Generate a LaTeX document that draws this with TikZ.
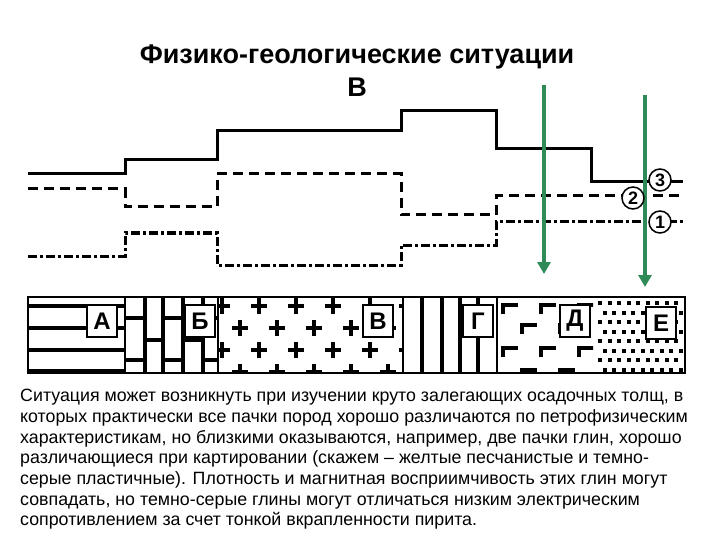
\documentclass[tikz,border=0pt]{standalone}
\usepackage{fontspec}
\setmainfont{Liberation Sans}
\usetikzlibrary{arrows.meta}
\begin{document}
\begin{tikzpicture}[x=1pt,y=-1pt,
  curve/.style={line width=3pt},
  lbl/.style={draw,fill=white,line width=1.5pt,minimum width=30pt,minimum height=32pt,inner sep=0pt,font=\fontsize{24}{24}\selectfont\bfseries},
  circ/.style={circle,draw,line width=1.5pt,fill=white,inner sep=0pt,minimum size=22pt,font=\fontsize{18}{18}\selectfont\bfseries},
  garrow/.style={draw={rgb,255:red,46;green,139;blue,87},line width=3.5pt,-{Triangle[length=12pt,width=13pt]}},
  pat/.style={line width=4.5pt}]
\useasboundingbox (0,0) rectangle (720,540);
\node[font=\fontsize{27}{33}\selectfont\bfseries,align=center] (title) at (357,71) {Физико-геологические ситуации\\В};
% curves
\draw[curve] (28,174) -- (125,174) -- (125,160) -- (217,160) -- (217,131) -- (401,131) -- (401,111) -- (496,111) -- (496,149) -- (591,149) -- (591,182) -- (683,182);
\draw[curve,dash pattern=on 10pt off 6pt] (28,189) -- (125,189) -- (125,207) -- (217,207) -- (217,174) -- (401,174) -- (401,215) -- (496,215) -- (496,196) -- (683,196);
\draw[curve,dash pattern=on 9pt off 3pt on 3pt off 3pt] (28,256) -- (125,256) -- (125,233) -- (217,233) -- (217,265) -- (401,265) -- (401,245) -- (496,245) -- (496,222) -- (683,222);
% strip
\begin{scope}
\clip (28,297) rectangle (125,373);
\foreach \y in {306,328,350,371} \draw[pat] (28,\y) -- (125,\y);
\end{scope}
\begin{scope}
\clip (125,297) rectangle (218,373);
\foreach \x in {145,163,183,203} \draw[pat] (\x,297) -- (\x,373);
\foreach \x/\y in {125/318,125/360,145/340,163/318,163/360,183/340,203/318,203/360} \draw[pat] (\x,\y) -- (\x+20,\y);
\end{scope}
\begin{scope}
\clip (218,297) rectangle (403,373);
\foreach \r/\y in {0/306,1/328,0/350,1/372} \foreach \i in {0,...,6} \draw[pat] ({222+\i*37+\r*18-8},\y) -- +(16,0) ({222+\i*37+\r*18},\y-8) -- +(0,16);
\end{scope}
\begin{scope}
\clip (403,297) rectangle (497,373);
\foreach \x in {422,442,460,478} \draw[pat] (\x,297) -- (\x,373);
\end{scope}
\begin{scope}
\clip (497,297) rectangle (593,373);
\foreach \r/\y in {0/305,1/325,0/348,1/370} \foreach \i in {0,...,3} \draw[pat] ({503+\i*38+\r*19},{\y+9}) -- +(0,-9) -- +(15,-9);
\end{scope}
\begin{scope}
\clip (593,297) rectangle (685,373);
\foreach \r in {0,...,7} \foreach \i in {0,...,9} \fill ({598+\i*9.5+mod(\r,2)*4.7},{301+\r*9.5}) rectangle +(4,4);
\end{scope}
\foreach \a/\b in {125/218,218/403,403/497,497/593} \draw[line width=1.5pt] (\a,297) -- (\a,373);
\draw[line width=2pt] (28,297) rectangle (685,373);
\node[lbl] (A) at (102,321) {А};
\node[lbl] (B) at (200,321) {Б};
\node[lbl] (V) at (378,321) {В};
\node[lbl] (G) at (478,321) {Г};
\node[lbl] (D) at (575,321) {Д};
\node[lbl] (E) at (661,323) {Е};
% arrows
\coordinate (a1) at (544,85); \coordinate (a1e) at (544,274);
\coordinate (a2) at (645,95); \coordinate (a2e) at (645,287);
\draw[garrow] (a1) -- (a1e);
\draw[garrow] (a2) -- (a2e);
\node[circ] (c3) at (660,180) {3};
\node[circ] (c2) at (633,198) {2};
\node[circ] (c1) at (660,222) {1};
\node[anchor=north west,align=left,font=\fontsize{17.8}{20.7}\selectfont,inner sep=0pt] (txt) at (20,389) {Ситуация может возникнуть при изучении круто залегающих осадочных толщ, в\\которых практически все пачки пород хорошо различаются по петрофизическим\\характеристикам, но близкими оказываются, например, две пачки глин, хорошо\\различающиеся при картировании (скажем – желтые песчанистые и темно-\\серые пластичные). Плотность и магнитная восприимчивость этих глин могут\\совпадать, но темно-серые глины могут отличаться низким электрическим\\сопротивлением за счет тонкой вкрапленности пирита.};
\end{tikzpicture}
\end{document}
